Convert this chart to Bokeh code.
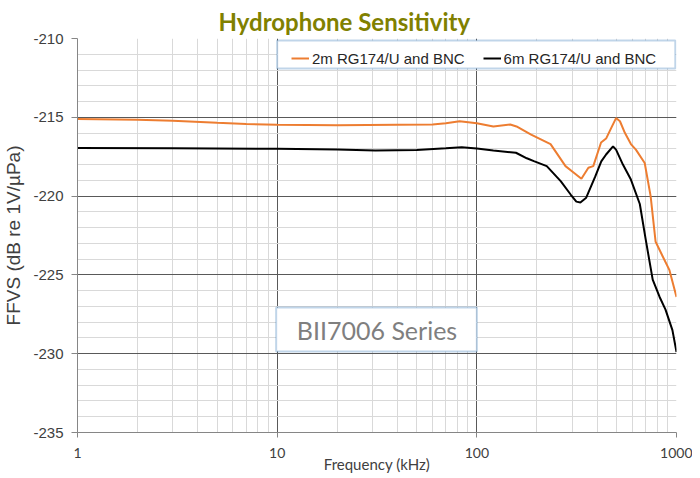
from bokeh.plotting import figure
from bokeh.models import FixedTicker, Legend, LegendItem, BoxAnnotation, Label
from bokeh.embed import file_html
from bokeh.resources import INLINE

# ---- data ----
freq_2m = [1, 2, 3, 5, 7, 10, 20, 40, 60, 70, 82, 100, 121, 147, 158, 187, 234, 278,
           305, 334, 362, 383, 419, 444, 470, 498, 521, 552, 591, 626, 693, 742, 786,
           851, 922, 1000]
ffvs_2m = [-215.1, -215.15, -215.22, -215.35, -215.42, -215.48, -215.5, -215.47, -215.45,
           -215.38, -215.25, -215.38, -215.58, -215.46, -215.58, -216.1, -216.7, -218.1,
           -218.5, -218.9, -218.2, -218.1, -216.6, -216.35, -215.7, -215.05, -215.25,
           -216.0, -216.7, -217.05, -217.9, -220.0, -222.9, -223.8, -224.7, -226.4]

freq_6m = [1, 3, 10, 20, 31, 50, 70, 84, 100, 121, 157, 178, 193, 224, 263, 295, 315, 330,
           353, 392, 420, 444, 481, 498, 539, 591, 655, 701, 760, 823, 881, 954, 1000]
ffvs_6m = [-216.95, -216.97, -217.0, -217.05, -217.1, -217.08, -216.97, -216.9, -216.98,
           -217.1, -217.25, -217.6, -217.78, -218.1, -219.05, -219.9, -220.35, -220.4,
           -220.1, -218.75, -217.8, -217.36, -216.85, -217.05, -218.0, -218.95, -220.5,
           -222.75, -225.3, -226.4, -227.2, -228.5, -229.9]

series_labels = ["2m RG174/U and BNC", "6m RG174/U and BNC"]
x_major_ticks = [1, 10, 100, 1000]
x_tick_labels = ["1", "10", "100", "1000"]
y_major_ticks = [-235, -230, -225, -220, -215, -210]
y_tick_labels = ["-235", "-230", "-225", "-220", "-215", "-210"]
title_text = "Hydrophone Sensitivity"
note_text = "BII7006 Series"

# ---- layout ----
W, H = 692, 476
BL, BR, BT, BB = 71, 16, 38, 44
frame_h = H - BT - BB
px_per_db = frame_h / 25.0

p = figure(width=W, height=H, x_axis_type="log", x_range=(1, 1000), y_range=(-235, -210),
           output_backend="svg", toolbar_location=None,
           min_border_left=BL, min_border_right=BR, min_border_top=BT, min_border_bottom=BB)
p.outline_line_color = None
p.background_fill_color = "white"

p.title.text = title_text
p.title.text_font = "Lato"
p.title.text_font_style = "bold"
p.title.text_font_size = "24px"
p.title.text_color = "#808000"
p.title.align = "left"
p.title.offset = 141
p.title.standoff = 6

x_minor = [m * 10 ** d for d in range(3) for m in range(2, 10)]
y_minor = list(range(-235, -209))

p.xgrid[0].ticker = FixedTicker(ticks=x_major_ticks, minor_ticks=x_minor)
p.ygrid[0].ticker = FixedTicker(ticks=y_major_ticks, minor_ticks=y_minor)
for g in (p.xgrid[0], p.ygrid[0]):
    g.grid_line_color = "#595959"
    g.grid_line_width = 1
    g.minor_grid_line_color = "#d9d9d9"
    g.minor_grid_line_width = 1

p.xaxis.ticker = FixedTicker(ticks=x_major_ticks)
p.xaxis.major_label_overrides = dict(zip(x_major_ticks, x_tick_labels))
p.yaxis.ticker = FixedTicker(ticks=y_major_ticks)
p.yaxis.major_label_overrides = dict(zip(y_major_ticks, y_tick_labels))

for ax in (p.xaxis[0], p.yaxis[0]):
    ax.axis_line_color = "#868686"
    ax.major_tick_line_color = "#868686"
    ax.minor_tick_out = 0
    ax.minor_tick_in = 0
    ax.major_tick_in = 0
    ax.major_label_text_color = "#404040"
    ax.axis_label_text_color = "#404040"
    ax.axis_label_text_font_style = "normal"

p.xaxis.major_tick_out = 5
p.xaxis.major_label_text_font = "Lato"
p.xaxis.major_label_text_font_size = "14px"
p.xaxis.major_label_standoff = 10
p.xaxis.axis_label = "Frequency (kHz)"
p.xaxis.axis_label_text_font = "Lato"
p.xaxis.axis_label_text_font_size = "15px"
p.xaxis.axis_label_standoff = -6

p.yaxis.major_tick_out = 6
p.yaxis.major_label_text_font = "Liberation Sans"
p.yaxis.major_label_text_font_size = "15px"
p.yaxis.major_label_standoff = 8
p.yaxis.axis_label = "FFVS (dB re 1V/\u00b5Pa)"
p.yaxis.axis_label_text_font = "Liberation Sans"
p.yaxis.axis_label_text_font_size = "19px"
p.yaxis.axis_label_standoff = 6

r1 = p.line(freq_2m, ffvs_2m, line_color="#ED7D31", line_width=2)
r2 = p.line(freq_6m, ffvs_6m, line_color="#000000", line_width=2)

frame_w = W - BL - 23
# legend frame (blue box)
p.add_layout(BoxAnnotation(left=10, right=10 ** 2.994,
                           top=-210 - 2 / px_per_db, bottom=-210 - 30 / px_per_db,
                           fill_color="white", fill_alpha=1.0,
                           line_color="#2E75B6", line_width=2))

legend = Legend(items=[LegendItem(label=series_labels[0], renderers=[r1]),
                       LegendItem(label=series_labels[1], renderers=[r2])],
                orientation="horizontal",
                location=(int(frame_w / 3 + 19 - 4), int(frame_h - 30)),
                border_line_color=None, background_fill_alpha=0,
                padding=4, margin=0, spacing=18,
                glyph_width=18, glyph_height=20, label_standoff=3,
                label_text_font="Liberation Sans", label_text_font_size="15px",
                label_text_color="#262626")
p.add_layout(legend)

# series note box
p.add_layout(BoxAnnotation(left=10 ** 0.995, right=100, top=-227.07, bottom=-229.86,
                           fill_color="white", fill_alpha=1.0,
                           line_color="#2E75B6", line_width=2))
p.add_layout(Label(x=10 ** 1.5, y=-228.47, text=note_text, text_font="Lato",
                   text_font_size="25px", text_color="#7f7f7f",
                   text_align="center", text_baseline="middle"))

open("out.html", "w").write(file_html(p, INLINE))
